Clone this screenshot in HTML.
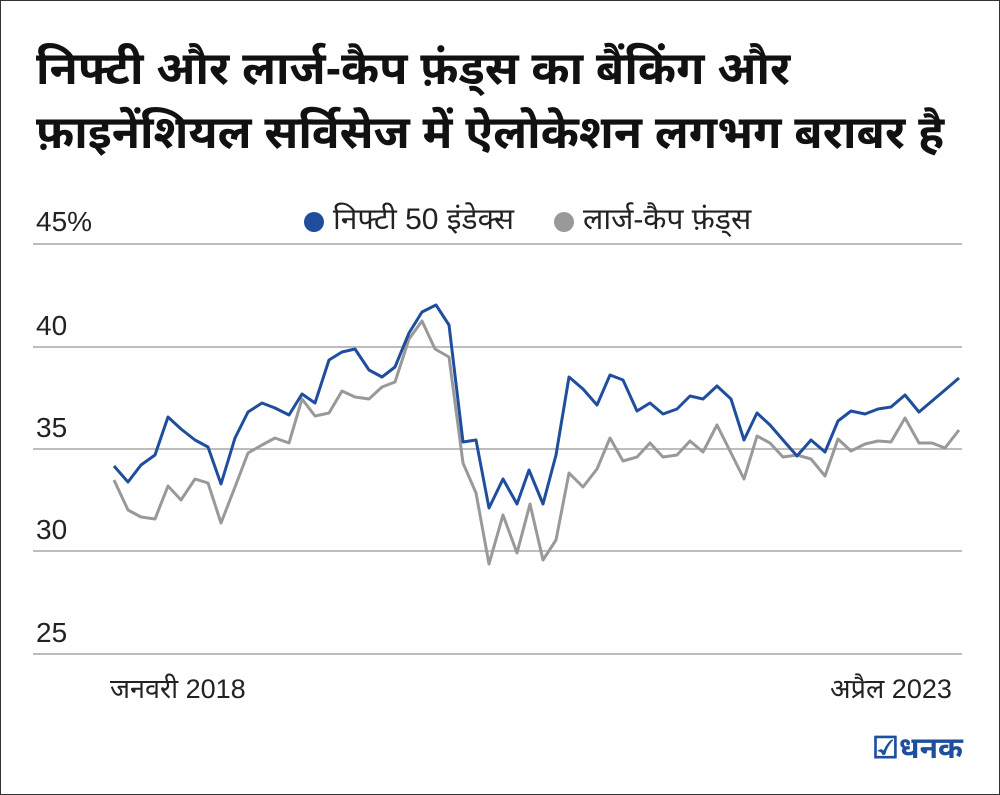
<!DOCTYPE html>
<html><head><meta charset="utf-8"><style>
html,body{margin:0;padding:0;background:#fff;}
body{width:1000px;height:795px;position:relative;overflow:hidden;font-family:"Liberation Sans","Noto Sans Devanagari","Lohit Devanagari","FreeSans",sans-serif;}
.frame{position:absolute;left:0;top:0;width:998px;height:793px;border:1px solid #333;}
.title{position:absolute;left:36px;top:36px;font-size:46px;font-weight:bold;line-height:64px;color:#111;white-space:nowrap;}
.lbl{position:absolute;font-size:27px;color:#222;white-space:nowrap;}
</style></head><body>
<div class="frame"></div>
<div class="title">निफ्टी और लार्ज-कैप फ़ंड्स का बैंकिंग और<br>फ़ाइनेंशियल सर्विसेज में ऐलोकेशन लगभग बराबर है</div>
<svg width="1000" height="795" style="position:absolute;left:0;top:0">
<g stroke="#bdbdbd" stroke-width="2">
<line x1="33" y1="244" x2="962" y2="244"/>
<line x1="33" y1="347" x2="962" y2="347"/>
<line x1="33" y1="449" x2="962" y2="449"/>
<line x1="33" y1="551" x2="962" y2="551"/>
<line x1="33" y1="654" x2="962" y2="654"/>
</g>
<polyline fill="none" stroke="#999" stroke-width="3" stroke-linejoin="round" points="114,480 128,510 141,517 155,519 168,486 181,500 195,479 208,483 221,523 235,487 248,453 262,445 275,438 289,443 302,399 315,416 329,413 342,391 355,397 369,399 382,387 395,382 409,339 422,321 435,349 449,357 463,463 476,493 489,564 503,515 517,553 530,504 543,560 556,540 569,473 583,487 597,469 610,438 623,461 637,457 650,443 663,457 677,455 690,441 703,452 717,425 731,453 744,479 757,436 770,443 783,457 797,455 811,459 825,476 838,439 851,451 865,444 878,441 891,442 905,418 919,443 932,443 945,448 959,430"/>
<polyline fill="none" stroke="#1f4e9c" stroke-width="3" stroke-linejoin="round" points="114,466 128,482 141,465 155,455 168,417 181,429 195,440 208,447 221,484 235,438 248,412 262,403 275,408 289,415 302,394 315,403 329,360 342,352 355,349 369,370 382,377 395,367 409,333 422,312 436,305 449,325 463,442 476,440 489,508 503,479 517,504 529,470 543,504 556,455 569,377 583,389 597,405 610,375 623,380 637,411 650,403 663,414 677,409 690,396 703,399 717,386 731,399 744,440 757,413 770,425 783,440 797,456 811,440 825,452 838,421 851,411 865,414 878,409 891,407 905,395 919,412 932,401 945,390 959,378"/>
<circle cx="314" cy="222" r="10" fill="#1f4e9c"/>
<circle cx="564" cy="222" r="10" fill="#999"/>
</svg>
<div class="lbl" style="left:36px;top:206px;font-size:28px">45%</div>
<div class="lbl" style="left:36px;top:310px;font-size:28px">40</div>
<div class="lbl" style="left:36px;top:412px;font-size:28px">35</div>
<div class="lbl" style="left:36px;top:514px;font-size:28px">30</div>
<div class="lbl" style="left:36px;top:617px;font-size:28px">25</div>
<div class="lbl" style="left:333px;top:203px;font-size:30px">निफ्टी 50 इंडेक्स</div>
<div class="lbl" style="left:583px;top:203px;font-size:30px">लार्ज-कैप फ़ंड्स</div>
<div class="lbl" style="left:110px;top:674px">जनवरी 2018</div>
<div class="lbl" style="left:830px;top:674px">अप्रैल 2023</div>
<div style="position:absolute;left:872px;top:731px;font-size:30px;font-weight:bold;color:#1f4e9c">☑धनक</div>
</body></html>
